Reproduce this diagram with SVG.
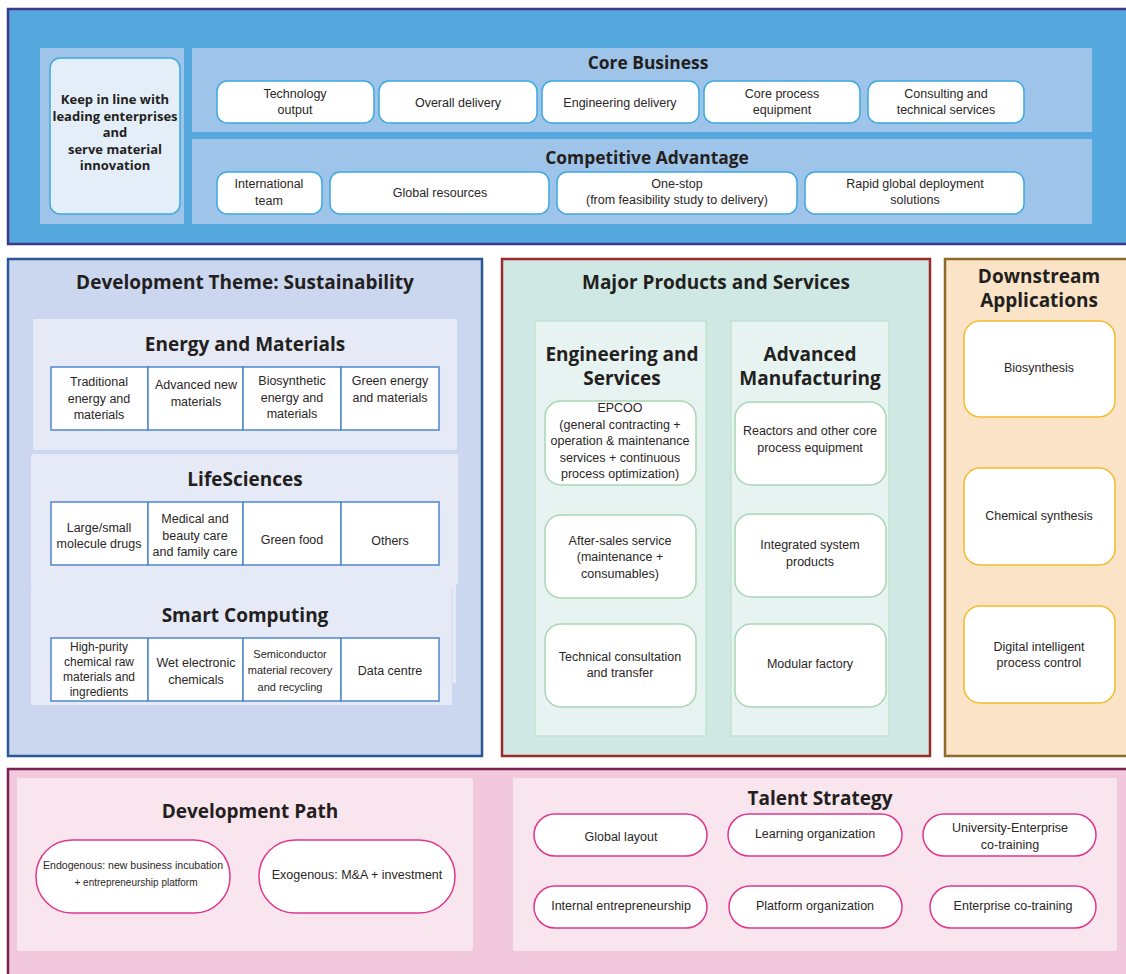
<svg xmlns="http://www.w3.org/2000/svg" width="1126" height="974" viewBox="0 0 1126 974">
<style>
text{font-family:"Liberation Sans",Arial,sans-serif;fill:#2b2626;text-anchor:middle}
.h{font-family:"Open Sans","Noto Sans",sans-serif;font-weight:bold;font-size:19px;fill:#231f20}
.h2{font-family:"Open Sans","Noto Sans",sans-serif;font-weight:bold;font-size:17.4px;fill:#231f20}
.hk{font-family:"Open Sans","Noto Sans",sans-serif;font-weight:bold;font-size:13px;fill:#231f20}
.t{font-size:12.5px}
.ts{font-size:12px}
.bb{fill:#fff;stroke:#3ea9e0;stroke-width:1.5}
.cell{fill:#fff;stroke:#4f86cf;stroke-width:1.5}
.gb{fill:#fff;stroke:#a9d6b4;stroke-width:1.5}
.yb{fill:#fff;stroke:#f3bb2b;stroke-width:1.5}
.pb{fill:#fff;stroke:#e0378e;stroke-width:1.5}
</style>
<rect width="1126" height="974" fill="#fff"/>

<!-- Top band -->
<g id="top-band">
<rect x="8" y="9" width="1122" height="235" fill="#55a8de" stroke="#3c3a8c" stroke-width="2.5"/>
<rect x="40" y="48" width="144" height="176" fill="#9fc4e9"/>
<rect x="192" y="48" width="900" height="84" fill="#9fc4e9"/>
<rect x="192" y="139" width="900" height="85" fill="#9fc4e9"/>
</g>
<g id="keep">
<rect x="50" y="58" width="130" height="156" rx="10" fill="#e4eef9" stroke="#3ea9e0" stroke-width="1.5"/>
<text class="hk" x="115" y="104">Keep in line with</text>
<text class="hk" x="115" y="121">leading enterprises</text>
<text class="hk" x="115" y="137">and</text>
<text class="hk" x="115" y="154">serve material</text>
<text class="hk" x="115" y="170">innovation</text>
</g>
<g id="core-business">
<text class="h2" x="648" y="69">Core Business</text>
<g id="cb1"><rect class="bb" x="217" y="81" width="157" height="42" rx="10"/><text class="t" x="295" y="98">Technology</text><text class="t" x="295" y="114">output</text></g>
<g id="cb2"><rect class="bb" x="379" y="81" width="158" height="42" rx="10"/><text class="t" x="458" y="107">Overall delivery</text></g>
<g id="cb3"><rect class="bb" x="542" y="81" width="157" height="42" rx="10"/><text class="t" x="620" y="107">Engineering delivery</text></g>
<g id="cb4"><rect class="bb" x="704" y="81" width="156" height="42" rx="10"/><text class="t" x="782" y="98">Core process</text><text class="t" x="782" y="114">equipment</text></g>
<g id="cb5"><rect class="bb" x="868" y="81" width="156" height="42" rx="10"/><text class="t" x="946" y="98">Consulting and</text><text class="t" x="946" y="114">technical services</text></g>
</g>
<g id="competitive-advantage">
<text class="h2" x="647" y="164">Competitive Advantage</text>
<g id="ca1"><rect class="bb" x="217" y="172" width="105" height="42" rx="10"/><text class="t" x="269" y="188">International</text><text class="t" x="269" y="205">team</text></g>
<g id="ca2"><rect class="bb" x="330" y="172" width="219" height="42" rx="10"/><text class="t" x="440" y="197">Global resources</text></g>
<g id="ca3"><rect class="bb" x="557" y="172" width="240" height="42" rx="10"/><text class="t" x="677" y="188">One-stop</text><text class="t" x="677" y="204">(from feasibility study to delivery)</text></g>
<g id="ca4"><rect class="bb" x="805" y="172" width="219" height="42" rx="10"/><text class="t" x="915" y="188">Rapid global deployment</text><text class="t" x="915" y="204">solutions</text></g>
</g>

<!-- Development theme -->
<g id="dev-theme">
<rect x="8" y="259" width="474" height="497" fill="#cbd7ee" stroke="#2a5796" stroke-width="2.5"/>
<text class="h" x="245" y="289">Development Theme: Sustainability</text>
<rect x="33" y="319" width="424" height="131" rx="2" fill="#e5eaf6"/>
<rect x="31" y="454" width="427" height="131" rx="2" fill="#e5eaf6"/>
<rect x="31" y="585" width="421" height="120" fill="#e5eaf6"/>
<rect x="451" y="585" width="5" height="98" fill="#e5eaf6"/>
<line x1="452" y1="588" x2="452" y2="683" stroke="#d3dae9" stroke-width="1"/>
</g>
<g id="energy">
<text class="h" x="245" y="351">Energy and Materials</text>
<rect class="cell" x="51" y="367" width="97" height="63"/>
<rect class="cell" x="148" y="367" width="95" height="63"/>
<rect class="cell" x="243" y="367" width="98" height="63"/>
<rect class="cell" x="341" y="367" width="98" height="63"/>
<text class="t" x="99" y="386">Traditional</text><text class="t" x="99" y="403">energy and</text><text class="t" x="99" y="419">materials</text>
<text class="t" x="196" y="389">Advanced new</text><text class="t" x="196" y="406">materials</text>
<text class="t" x="292" y="385">Biosynthetic</text><text class="t" x="292" y="402">energy and</text><text class="t" x="292" y="418">materials</text>
<text class="t" x="390" y="385">Green energy</text><text class="t" x="390" y="402">and materials</text>
</g>
<g id="life">
<text class="h" x="245" y="486">LifeSciences</text>
<rect class="cell" x="51" y="502" width="97" height="63"/>
<rect class="cell" x="148" y="502" width="95" height="63"/>
<rect class="cell" x="243" y="502" width="98" height="63"/>
<rect class="cell" x="341" y="502" width="98" height="63"/>
<text class="t" x="99" y="532">Large/small</text><text class="t" x="99" y="548">molecule drugs</text>
<text class="t" x="195" y="523">Medical and</text><text class="t" x="195" y="540">beauty care</text><text class="t" x="195" y="556">and family care</text>
<text class="t" x="292" y="544">Green food</text>
<text class="t" x="390" y="545">Others</text>
</g>
<g id="smart">
<text class="h" x="245" y="622">Smart Computing</text>
<rect class="cell" x="51" y="638" width="97" height="63"/>
<rect class="cell" x="148" y="638" width="95" height="63"/>
<rect class="cell" x="243" y="638" width="98" height="63"/>
<rect class="cell" x="341" y="638" width="98" height="63"/>
<text class="ts" x="99" y="651">High-purity</text><text class="ts" x="99" y="666">chemical raw</text><text class="ts" x="99" y="681">materials and</text><text class="ts" x="99" y="696">ingredients</text>
<text class="t" x="196" y="667">Wet electronic</text><text class="t" x="196" y="684">chemicals</text>
<text class="ts" x="290" y="658" style="font-size:11px">Semiconductor</text><text class="ts" x="290" y="674" style="font-size:11px">material recovery</text><text class="ts" x="290" y="691" style="font-size:11px">and recycling</text>
<text class="t" x="390" y="675">Data centre</text>
</g>

<!-- Major products -->
<g id="major">
<rect x="502" y="259" width="428" height="497" fill="#cfe8e3" stroke="#9b2a2a" stroke-width="2.5"/>
<text class="h" x="716" y="289">Major Products and Services</text>
<rect x="535" y="321" width="171" height="415" fill="#e6f3f0" stroke="#b9dcc9" stroke-width="1"/>
<rect x="731" y="321" width="158" height="415" fill="#e6f3f0" stroke="#b9dcc9" stroke-width="1"/>
<text class="h" x="622" y="361">Engineering and</text>
<text class="h" x="622" y="385">Services</text>
<text class="h" x="810" y="361">Advanced</text>
<text class="h" x="810" y="385">Manufacturing</text>
</g>
<g id="epcoo"><rect class="gb" x="545" y="401" width="151" height="84" rx="16"/>
<text class="t" x="620" y="412">EPCOO</text><text class="t" x="620" y="429">(general contracting +</text><text class="t" x="620" y="445">operation &amp; maintenance</text><text class="t" x="620" y="462">services + continuous</text><text class="t" x="620" y="478">process optimization)</text></g>
<g id="after-sales"><rect class="gb" x="545" y="515" width="151" height="83" rx="16"/>
<text class="t" x="620" y="545">After-sales service</text><text class="t" x="620" y="561">(maintenance +</text><text class="t" x="620" y="578">consumables)</text></g>
<g id="tech-consult"><rect class="gb" x="545" y="624" width="151" height="83" rx="16"/>
<text class="t" x="620" y="661">Technical consultation</text><text class="t" x="620" y="677">and transfer</text></g>
<g id="reactors"><rect class="gb" x="735" y="402" width="151" height="83" rx="16"/>
<text class="t" x="810" y="435">Reactors and other core</text><text class="t" x="810" y="452">process equipment</text></g>
<g id="integrated"><rect class="gb" x="735" y="514" width="151" height="83" rx="16"/>
<text class="t" x="810" y="549">Integrated system</text><text class="t" x="810" y="566">products</text></g>
<g id="modular"><rect class="gb" x="735" y="624" width="151" height="83" rx="16"/>
<text class="t" x="810" y="668">Modular factory</text></g>

<!-- Downstream -->
<g id="downstream">
<rect x="945" y="259" width="185" height="497" fill="#fae3c6" stroke="#8b6a2a" stroke-width="2.5"/>
<text class="h" x="1039" y="283">Downstream</text>
<text class="h" x="1039" y="307">Applications</text>
</g>
<g id="bio"><rect class="yb" x="964" y="321" width="151" height="96" rx="16"/><text class="t" x="1039" y="372">Biosynthesis</text></g>
<g id="chem"><rect class="yb" x="964" y="468" width="151" height="97" rx="16"/><text class="t" x="1039" y="520">Chemical synthesis</text></g>
<g id="digital"><rect class="yb" x="964" y="606" width="151" height="97" rx="16"/><text class="t" x="1039" y="651">Digital intelligent</text><text class="t" x="1039" y="667">process control</text></g>

<!-- Bottom band -->
<g id="bottom-band">
<rect x="8" y="769" width="1122" height="210" fill="#f2c9dc" stroke="#7a2350" stroke-width="2.5"/>
<rect x="17" y="778" width="456" height="173" rx="2" fill="#f8e5ed"/>
<rect x="513" y="778" width="604" height="173" rx="2" fill="#f8e5ed"/>
</g>
<g id="dev-path">
<text class="h" x="250" y="818">Development Path</text>
<g id="endo"><rect class="pb" x="36" y="840" width="194" height="73" rx="36"/><text class="ts" x="133" y="869" style="font-size:11.5px" textLength="180" lengthAdjust="spacingAndGlyphs">Endogenous: new business incubation</text><text class="ts" x="136" y="886" style="font-size:11.5px" textLength="123" lengthAdjust="spacingAndGlyphs">+ entrepreneurship platform</text></g>
<g id="exo"><rect class="pb" x="259" y="840" width="196" height="73" rx="36"/><text class="t" x="357" y="879">Exogenous: M&amp;A + investment</text></g>
</g>
<g id="talent">
<text class="h" x="820" y="805">Talent Strategy</text>
<g id="ts1"><rect class="pb" x="534" y="814" width="173" height="42" rx="21"/><text class="t" x="621" y="841">Global layout</text></g>
<g id="ts2"><rect class="pb" x="728" y="814" width="174" height="42" rx="21"/><text class="t" x="815" y="838">Learning organization</text></g>
<g id="ts3"><rect class="pb" x="923" y="814" width="173" height="42" rx="21"/><text class="t" x="1010" y="832">University-Enterprise</text><text class="t" x="1010" y="849">co-training</text></g>
<g id="ts4"><rect class="pb" x="534" y="886" width="173" height="42" rx="21"/><text class="t" x="621" y="910">Internal entrepreneurship</text></g>
<g id="ts5"><rect class="pb" x="729" y="886" width="173" height="42" rx="21"/><text class="t" x="815" y="910">Platform organization</text></g>
<g id="ts6"><rect class="pb" x="930" y="886" width="166" height="42" rx="21"/><text class="t" x="1013" y="910">Enterprise co-training</text></g>
</g>
<g id="connectors"></g>
</svg>
